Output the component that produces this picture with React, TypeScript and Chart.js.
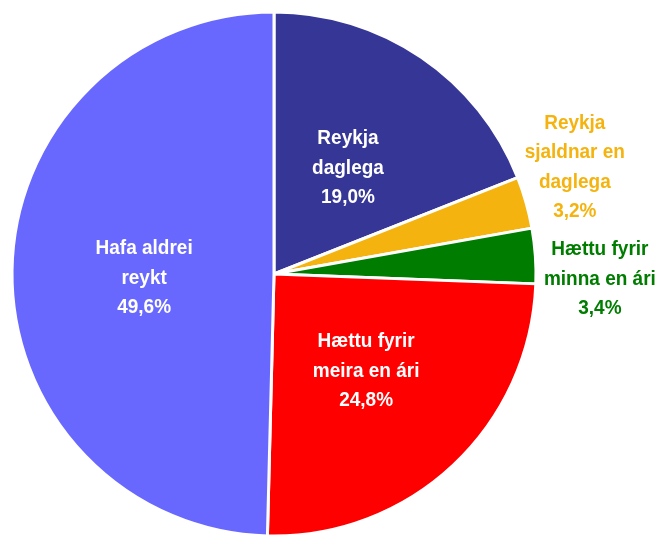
import React, { useEffect, useRef } from "react";
import { Chart, registerables } from "chart.js";

Chart.register(...registerables);

const categories: string[][] = [
  ["Reykja", "daglega"],
  ["Reykja", "sjaldnar en", "daglega"],
  ["Hættu fyrir", "minna en ári"],
  ["Hættu fyrir", "meira en ári"],
  ["Hafa aldrei", "reykt"],
];
const values: number[] = [19.0, 3.2, 3.4, 24.8, 49.6];
const percentLabels: string[] = ["19,0%", "3,2%", "3,4%", "24,8%", "49,6%"];
const colors: string[] = ["#363696", "#F5B30F", "#007D00", "#FF0000", "#6868FF"];
const labelColors: string[] = ["#FFFFFF", "#F5B30F", "#007D00", "#FFFFFF", "#FFFFFF"];
// label placement: radius factor and angular shift (deg) relative to slice middle
const labelRadius: number[] = [0.496, 1.219, 1.244, 0.508, 0.496];
const labelShift: number[] = [0.5, -3.8, 4.7, -0.6, -2.2];

const FONT = 'bold 20px "Liberation Sans", Arial, sans-serif';
const X_SCALE = 0.95;
const LINE_H = 29.5;

const labelPlugin = {
  id: "sliceLabels",
  afterDatasetsDraw(chart: any) {
    const ctx = chart.ctx;
    const meta = chart.getDatasetMeta(0);
    meta.data.forEach((arc: any, i: number) => {
      const { x, y, startAngle, endAngle, outerRadius } = arc.getProps(
        ["x", "y", "startAngle", "endAngle", "outerRadius"],
        true
      );
      const mid = (startAngle + endAngle) / 2 + (labelShift[i] * Math.PI) / 180;
      const r = outerRadius * labelRadius[i];
      const cx = x + Math.cos(mid) * r;
      const cy = y + Math.sin(mid) * r;
      const lines = [...categories[i], percentLabels[i]];
      const top = cy - ((lines.length - 1) * LINE_H) / 2;
      ctx.save();
      ctx.font = FONT;
      ctx.textAlign = "center";
      ctx.textBaseline = "middle";
      ctx.fillStyle = labelColors[i];
      ctx.translate(cx, 0);
      ctx.scale(X_SCALE, 1);
      lines.forEach((ln, k) => ctx.fillText(ln, 0, top + k * LINE_H + 1));
      ctx.restore();
    });
  },
};

export default function App() {
  const ref = useRef<HTMLCanvasElement>(null);
  useEffect(() => {
    if (!ref.current) return;
    const chart = new Chart(ref.current, {
      type: "pie",
      data: {
        labels: categories.map((c) => c.join(" ")),
        datasets: [
          {
            data: values,
            backgroundColor: colors,
            borderColor: "#FFFFFF",
            borderWidth: 3,
          },
        ],
      },
      options: {
        responsive: false,
        animation: false,
        devicePixelRatio: 1,
        layout: { padding: { left: 10.5, right: 123.5, top: 10.5, bottom: 10.5 } },
        plugins: {
          legend: { display: false },
          tooltip: { enabled: false },
        },
      },
      plugins: [labelPlugin],
    });
    return () => chart.destroy();
  }, []);
  return (
    <div
      style={{
        position: "absolute",
        left: 0,
        top: 0,
        width: 661,
        height: 535,
        overflow: "hidden",
        background: "#fff",
      }}
    >
      <canvas ref={ref} width={661} height={548} style={{ display: "block" }} />
    </div>
  );
}
